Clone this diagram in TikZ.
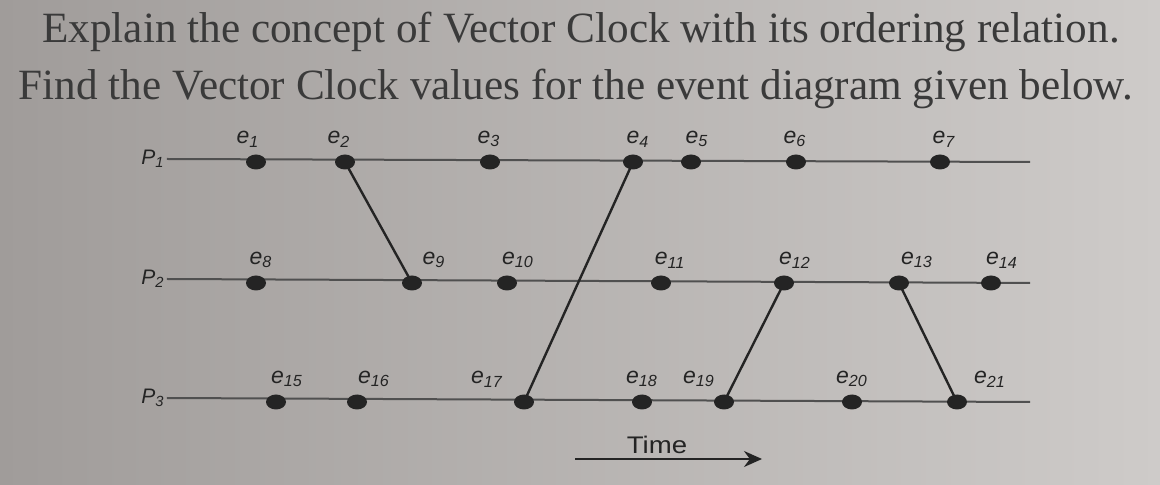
\documentclass[tikz,border=0pt]{standalone}
\usepackage{fontspec}
\setmainfont{Liberation Serif}
\setsansfont{Liberation Sans}
\usetikzlibrary{shapes.geometric,arrows.meta}
\tikzset{>=stealth}
\definecolor{paperl}{RGB}{160,156,154}
\definecolor{paperr}{RGB}{206,203,201}
\definecolor{ink}{RGB}{36,36,36}
\tikzset{
  question/.style={font=\fontsize{21.6}{22}\selectfont,text=ink!90,anchor=base,inner sep=0pt},
  proc/.style={font=\sffamily\itshape\fontsize{10.5}{10}\selectfont,text=ink,inner sep=1pt},
  timeline/.style={line width=1pt,ink!80},
  event/.style={ellipse,fill=ink,inner sep=0pt,minimum width=10pt,minimum height=7.5pt},
  evlabel/.style 2 args={label distance=0.5pt,label={[font=\sffamily\itshape\fontsize{11.5}{10}\selectfont,text=ink,xshift=#1*0.5pt]above:#2}},
  msg/.style={line width=1.2pt,ink}
}
\newcommand{\ev}[1]{e\textsubscript{#1}}

\begin{document}
\begin{tikzpicture}[x=0.5pt,y=-0.5pt]
    \shade[left color=paperl,right color=paperr] (0,0) rectangle (1160,485);
    \useasboundingbox (0,0) rectangle (1160,485);

    \node[question] (q1) at (581,43) {Explain the concept of Vector Clock with its ordering relation.};
    \node[question] (q2) at (576,100) {Find the Vector Clock values for the event diagram given below.};

    % processes
    \node[proc] (p1) at (153,159) {P\textsubscript{1}};
    \node[proc] (p2) at (153,279) {P\textsubscript{2}};
    \node[proc] (p3) at (153,398) {P\textsubscript{3}};
    \coordinate (p1end) at (1030,162);
    \coordinate (p2end) at (1030,283);
    \coordinate (p3end) at (1030,402);
    \draw[timeline] (p1.east) -- (p1end);
    \draw[timeline] (p2.east) -- (p2end);
    \draw[timeline] (p3.east) -- (p3end);

    % events on P1
    \node[event,evlabel={-8}{\ev{1}}] (e1) at (256,162) {};
    \node[event,evlabel={-6}{\ev{2}}] (e2) at (345,162) {};
    \node[event,evlabel={-1}{\ev{3}}] (e3) at (490,162) {};
    \node[event,evlabel={5}{\ev{4}}] (e4) at (633,162) {};
    \node[event,evlabel={6}{\ev{5}}] (e5) at (691,162) {};
    \node[event,evlabel={-1}{\ev{6}}] (e6) at (796,162) {};
    \node[event,evlabel={4}{\ev{7}}] (e7) at (940,162) {};

    % events on P2
    \node[event,evlabel={5}{\ev{8}}] (e8) at (256,283) {};
    \node[event,evlabel={22}{\ev{9}}] (e9) at (412,283) {};
    \node[event,evlabel={11}{\ev{10}}] (e10) at (507,283) {};
    \node[event,evlabel={9}{\ev{11}}] (e11) at (661,283) {};
    \node[event,evlabel={11}{\ev{12}}] (e12) at (784,283) {};
    \node[event,evlabel={18}{\ev{13}}] (e13) at (899,283) {};
    \node[event,evlabel={11}{\ev{14}}] (e14) at (991,283) {};

    % events on P3
    \node[event,evlabel={11}{\ev{15}}] (e15) at (276,402) {};
    \node[event,evlabel={17}{\ev{16}}] (e16) at (357,402) {};
    \node[event,evlabel={-37}{\ev{17}}] (e17) at (524,402) {};
    \node[event,evlabel={0}{\ev{18}}] (e18) at (642,402) {};
    \node[event,evlabel={-25}{\ev{19}}] (e19) at (724,402) {};
    \node[event,evlabel={0}{\ev{20}}] (e20) at (852,402) {};
    \node[event,evlabel={33}{\ev{21}}] (e21) at (957,402) {};

    % messages
    \draw[msg] (e2.center) -- (e9.center);
    \draw[msg] (e17.center) -- (e4.center);
    \draw[msg] (e19.center) -- (e12.center);
    \draw[msg] (e13.center) -- (e21.center);

    % time axis
    \node[font=\sffamily\fontsize{12}{12}\selectfont,text=ink,xscale=1.15] (tlbl) at (657,445) {Time};
    \coordinate (t0) at (575,459);
    \coordinate (t1) at (762,459);
    \draw[line width=1pt,ink,-{Stealth[length=9pt,width=8pt]}] (t0) -- (t1);
\end{tikzpicture}
\end{document}
